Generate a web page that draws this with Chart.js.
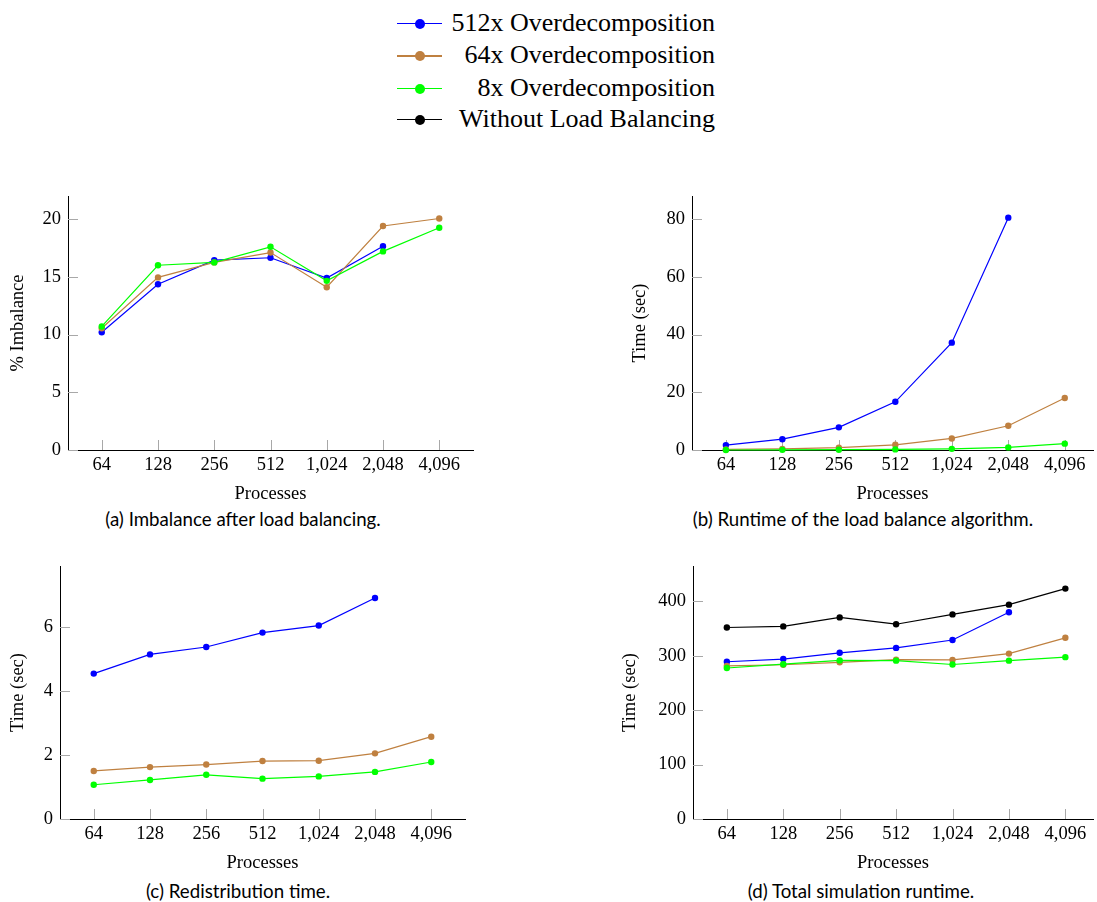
<!DOCTYPE html>
<html>
<head>
<meta charset="utf-8">
<script src="https://cdn.jsdelivr.net/npm/chart.js@4.4.1/dist/chart.umd.min.js"></script>
<style>
  body { margin: 0; background: #fff; width: 1097px; height: 902px; position: relative; overflow: hidden; }
  canvas { position: absolute; }
  .cap { position: absolute; font-family: Lato, sans-serif; font-size: 18.7px; color: #000; white-space: nowrap; transform: translateX(-50%); line-height: 22px; }
  .lg-row { position: absolute; height: 32px; }
  .lg-line { position: absolute; left: 397px; width: 45px; height: 1.2px; }
  .lg-dot { position: absolute; left: 415px; width: 10px; height: 10px; border-radius: 50%; }
  .lg-text { position: absolute; left: 450px; width: 265px; text-align: right; font-family: "Liberation Serif", serif; font-size: 26px; line-height: 32px; white-space: nowrap; }
</style>
</head>
<body>
<div id="legend"></div>
<canvas id="chartA" width="477" height="313" style="left:0px;top:192px"></canvas>
<canvas id="chartB" width="477" height="313" style="left:620px;top:192px"></canvas>
<canvas id="chartC" width="469" height="312" style="left:0px;top:562px"></canvas>
<canvas id="chartD" width="487" height="312" style="left:610px;top:562px"></canvas>
<div class="cap" style="left:243px;top:508px">(a) Imbalance after load balancing.</div>
<div class="cap" style="left:863px;top:508px">(b) Runtime of the load balance algorithm.</div>
<div class="cap" style="left:238px;top:880px">(c) Redistribution time.</div>
<div class="cap" style="left:861px;top:880px">(d) Total simulation runtime.</div>
<script>
const procLabels = ['64', '128', '256', '512', '1,024', '2,048', '4,096'];
const seriesNames = ['512x Overdecomposition', '64x Overdecomposition', '8x Overdecomposition', 'Without Load Balancing'];
const seriesColors = ['#0000ff', '#bf8040', '#00ff00', '#000000'];

// (a) imbalance %
const imb512 = [10.2, 14.35, 16.45, 16.65, 14.9, 17.65];
const imb64 = [10.55, 14.95, 16.25, 17.1, 14.1, 19.4, 20.05];
const imb8 = [10.7, 16.0, 16.25, 17.6, 14.65, 17.2, 19.25];
const imbTicks = [0, 5, 10, 15, 20];

// (b) load balance runtime (sec)
const lb512 = [1.7, 3.75, 7.85, 16.7, 37.2, 80.5];
const lb64 = [0.2, 0.4, 0.8, 1.8, 4.0, 8.4, 18.0];
const lb8 = [0.0, 0.05, 0.1, 0.2, 0.4, 0.9, 2.2];
const lbTicks = [0, 20, 40, 60, 80];

// (c) redistribution time (sec)
const rd512 = [4.54, 5.14, 5.37, 5.82, 6.04, 6.9];
const rd64 = [1.5, 1.62, 1.7, 1.81, 1.82, 2.05, 2.57];
const rd8 = [1.07, 1.22, 1.38, 1.26, 1.33, 1.47, 1.78];
const rdTicks = [0, 2, 4, 6];

// (d) total simulation runtime (sec)
const tot512 = [289, 294, 305.5, 314.5, 329, 380];
const tot64 = [281.5, 283.5, 288, 293, 292.5, 304, 333];
const tot8 = [277.5, 284.5, 291.5, 291, 284, 291, 297.5];
const totNoLb = [352, 354, 370.5, 358, 376, 394, 423.5];
const totTicks = [0, 100, 200, 300, 400];

const serif = 'Liberation Serif';

// legend rows
const legendY = [23.5, 56, 88.5, 119.5];
const legend = document.getElementById('legend');
seriesNames.forEach((name, i) => {
  const row = document.createElement('div');
  row.innerHTML =
    `<div class="lg-line" style="top:${legendY[i] - 0.6}px;background:${seriesColors[i]}"></div>` +
    `<div class="lg-dot" style="top:${legendY[i] - 5}px;background:${seriesColors[i]}"></div>` +
    `<div class="lg-text" style="top:${legendY[i] - 16.8}px">${name}</div>`;
  legend.appendChild(row);
});

// grey tick marks pointing into the plot, like pgfplots
const innerTicks = {
  id: 'innerTicks',
  beforeDatasetsDraw(chart) {
    const { ctx, chartArea, scales: { x, y } } = chart;
    ctx.save();
    ctx.strokeStyle = '#a8a8a8';
    ctx.lineWidth = 1;
    ctx.beginPath();
    x.ticks.forEach(t => {
      const px = Math.round(x.getPixelForValue(t.value)) + 0.5;
      ctx.moveTo(px, chartArea.bottom);
      ctx.lineTo(px, chartArea.bottom - 10);
    });
    y.ticks.forEach(t => {
      const py = Math.round(y.getPixelForValue(t.value)) + 0.5;
      ctx.moveTo(chartArea.left, py);
      ctx.lineTo(chartArea.left + 10, py);
    });
    ctx.stroke();
    ctx.restore();
  }
};

function toPoints(values) {
  return values.map((v, i) => ({ x: i, y: v }));
}

function series(values, idx) {
  return {
    label: seriesNames[idx],
    data: toPoints(values),
    borderColor: seriesColors[idx],
    backgroundColor: seriesColors[idx],
    pointBackgroundColor: seriesColors[idx],
    borderWidth: 1.2,
    pointRadius: 3.2,
    pointBorderWidth: 0,
    order: 3 - idx,
    clip: false
  };
}

// keep the plot box exactly where the axes are, without label padding
function noPad(s) {
  s.paddingTop = 0;
  s.paddingBottom = 0;
  s.paddingLeft = 0;
  s.paddingRight = 0;
}

function makeChart(id, datasets, cfg) {
  const ctx = document.getElementById(id).getContext('2d');
  new Chart(ctx, {
    type: 'line',
    data: { datasets: datasets },
    options: {
      responsive: false,
      animation: false,
      devicePixelRatio: 1,
      layout: { padding: 0 },
      plugins: { legend: { display: false }, tooltip: { enabled: false } },
      scales: {
        x: {
          type: 'linear',
          min: -0.6,
          max: cfg.xMax,
          afterBuildTicks: s => { s.ticks = procLabels.map((_, i) => ({ value: i })); },
          afterFit: s => { s.height = cfg.xH; noPad(s); },
          grid: { drawOnChartArea: false, drawTicks: false },
          border: { color: '#000', width: 1 },
          ticks: {
            padding: 4, color: '#000', autoSkip: false, maxRotation: 0,
            font: { family: serif, size: 18.5 },
            callback: v => procLabels[v]
          },
          title: { display: true, text: 'Processes', color: '#000', padding: 0, font: { family: serif, size: 18.5 } }
        },
        y: {
          min: 0,
          max: cfg.yMax,
          afterBuildTicks: s => { s.ticks = cfg.yTicks.map(v => ({ value: v })); },
          afterFit: s => { s.width = cfg.yW; noPad(s); },
          grid: { drawOnChartArea: false, drawTicks: false },
          border: { color: '#000', width: 1 },
          ticks: { padding: 7, color: '#000', font: { family: serif, size: 18.5 } },
          title: { display: true, text: cfg.yTitle, color: '#000', padding: { top: cfg.yTitlePad, bottom: 0 }, font: { family: serif, size: 18.5 } }
        }
      }
    },
    plugins: [innerTicks]
  });
}

makeChart('chartA', [series(imb512, 0), series(imb64, 1), series(imb8, 2)],
  { xMax: 6.6, xH: 55, yMax: 22, yTicks: imbTicks, yW: 68, yTitle: '% Imbalance', yTitlePad: 7 });
makeChart('chartB', [series(lb512, 0), series(lb64, 1), series(lb8, 2)],
  { xMax: 6.5, xH: 55, yMax: 88, yTicks: lbTicks, yW: 72, yTitle: 'Time (sec)', yTitlePad: 9 });
makeChart('chartC', [series(rd512, 0), series(rd64, 1), series(rd8, 2)],
  { xMax: 6.6, xH: 55, yMax: 7.9, yTicks: rdTicks, yW: 60, yTitle: 'Time (sec)', yTitlePad: 7 });
makeChart('chartD', [series(tot512, 0), series(tot64, 1), series(tot8, 2), series(totNoLb, 3)],
  { xMax: 6.49, xH: 55, yMax: 465, yTicks: totTicks, yW: 83, yTitle: 'Time (sec)', yTitlePad: 9 });
</script>
</body>
</html>
